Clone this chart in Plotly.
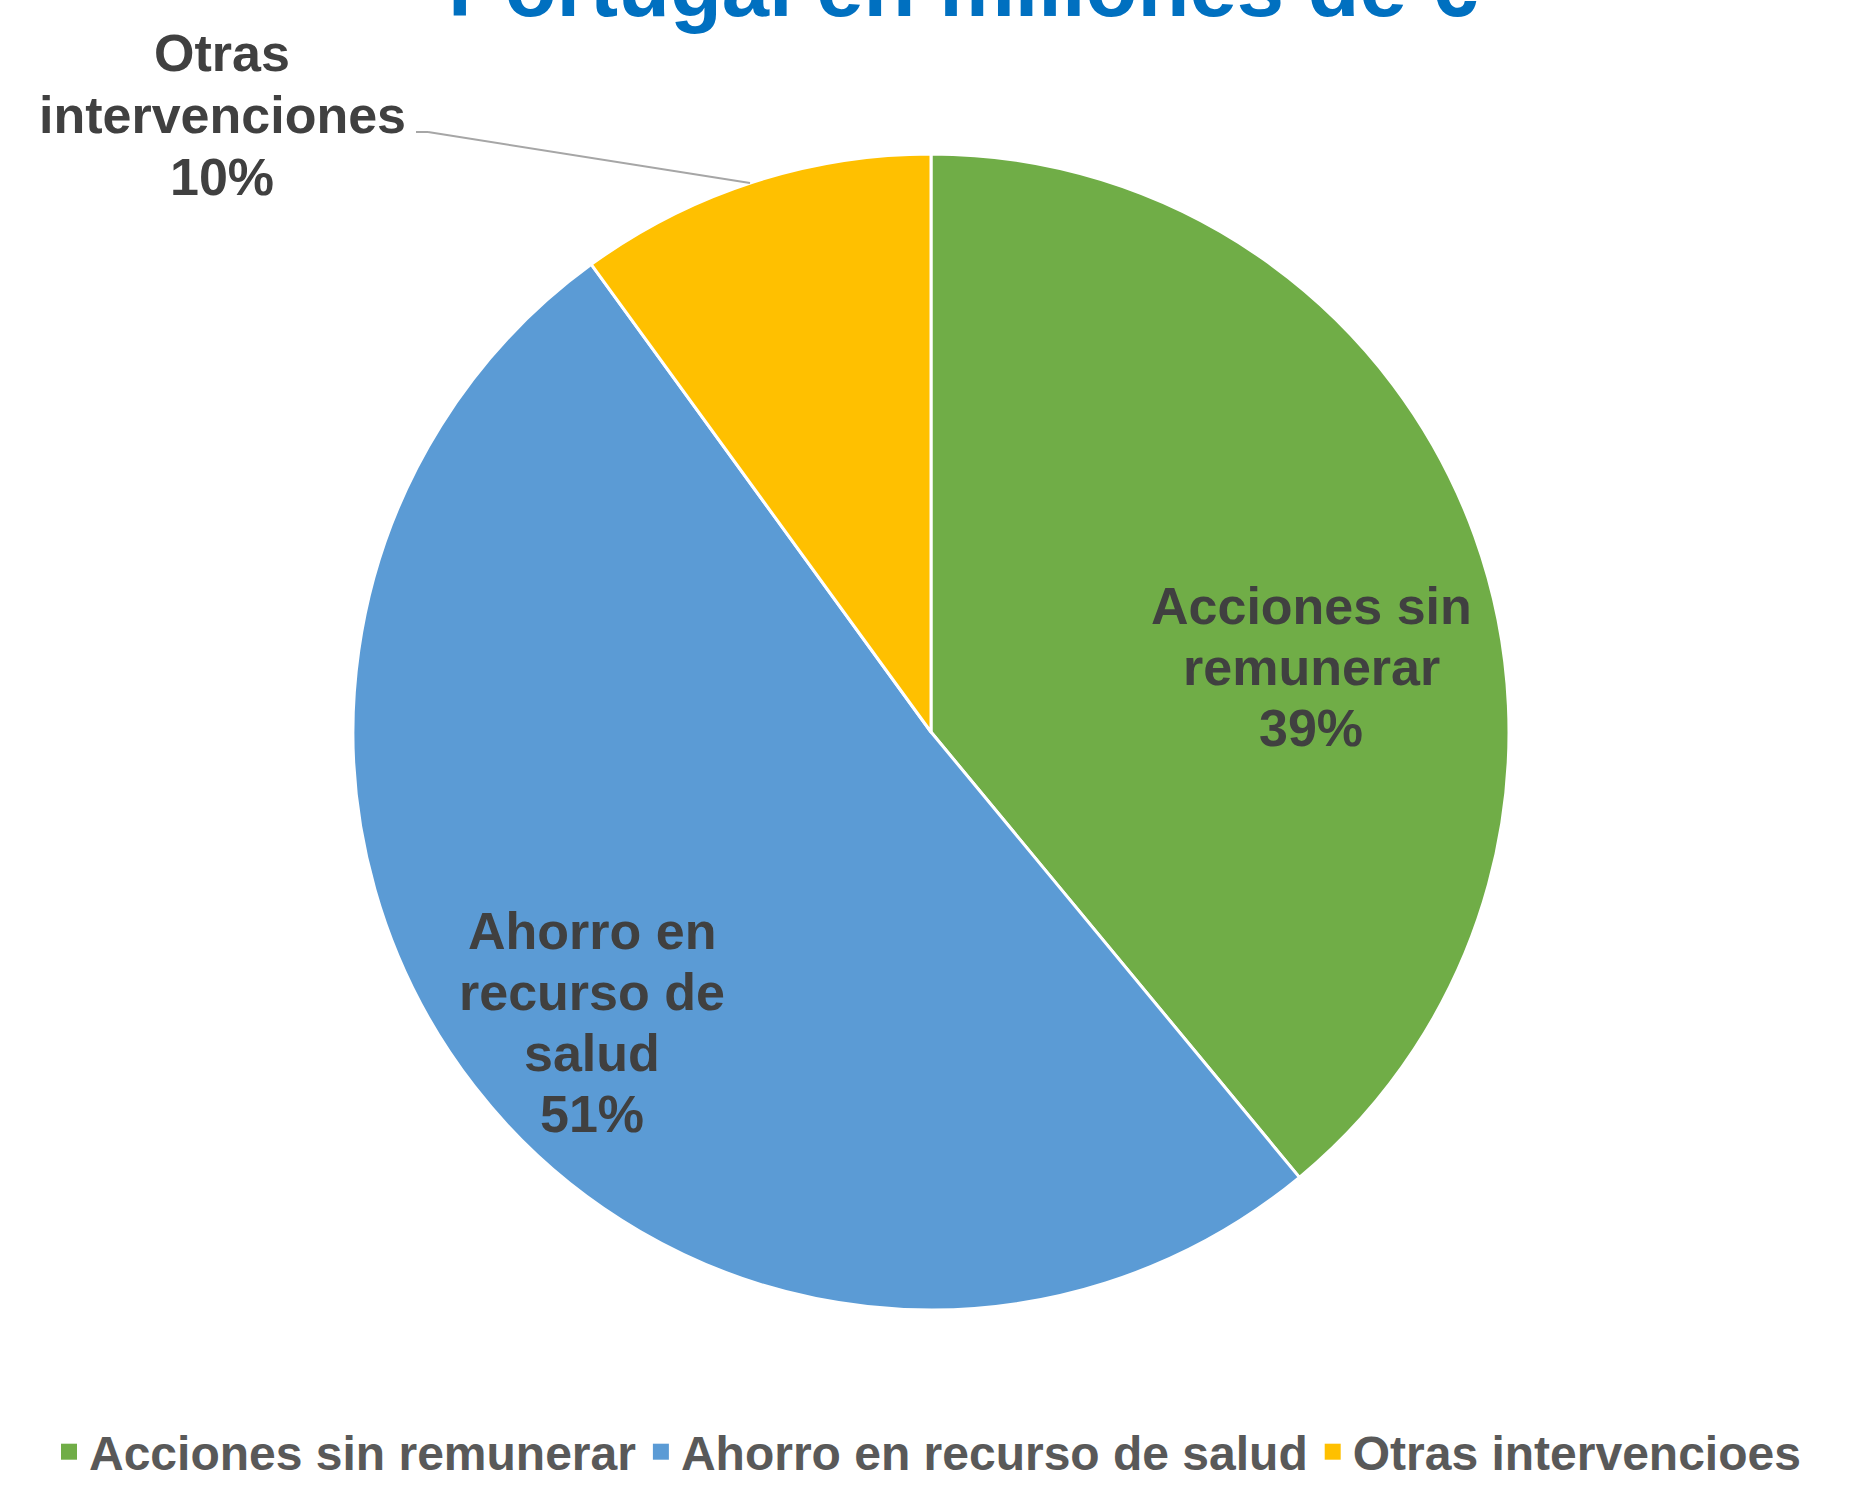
import plotly.graph_objects as go

# ---- data ----
legend_labels = ["Acciones sin remunerar", "Ahorro en recurso de salud", "Otras intervencioes"]
slice_label_lines = [["Acciones sin", "remunerar"], ["Ahorro en", "recurso de", "salud"], ["Otras", "intervenciones"]]
values = [39, 51, 10]
colors = ["#70AD47", "#5B9BD5", "#FFC000"]
title_text = "Portugal en millones de €"

W, H = 1855, 1486
FONT = "Liberation Sans, Arial, sans-serif"

def px(x):
    return x / W

def py(y):
    return 1 - y / H

# pie geometry: centre (931, 732), radius 578
cx, cy, r = 931, 732, 578

fig = go.Figure()
fig.add_trace(go.Pie(
    labels=legend_labels,
    values=values,
    sort=False,
    direction="clockwise",
    rotation=0,
    marker=dict(colors=colors, line=dict(color="white", width=3)),
    textinfo="none",
    hoverinfo="label+percent",
    domain=dict(x=[px(cx - r), px(cx + r)], y=[py(cy + r), py(cy - r)]),
    showlegend=False,
))

# legend entries (square swatches)
for lab, col in zip(legend_labels, colors):
    fig.add_trace(go.Scatter(
        x=[None], y=[None], mode="markers", name=lab,
        marker=dict(symbol="square", size=16, color=col, line=dict(width=0)),
        showlegend=True, hoverinfo="skip",
    ))

total = sum(values)
pcts = [round(v / total * 100) for v in values]

# label layout: (x centre, first line y, line spacing)
label_pos = [(1311, 606, 61), (592, 931, 61), (222, 53, 62)]
annotations = []
for lines, pct, (lx, ly, sp) in zip(slice_label_lines, pcts, label_pos):
    all_lines = lines + [f"{pct}%"]
    for i, t in enumerate(all_lines):
        annotations.append(dict(
            x=px(lx), y=py(ly + i * sp), xref="paper", yref="paper",
            xanchor="center", yanchor="middle", showarrow=False,
            text=f"<b>{t}</b>",
            font=dict(family=FONT, size=52, color="#404040"),
        ))

# title (partially cut at top, as in reference)
annotations.append(dict(
    x=px(963), y=py(36), xref="paper", yref="paper",
    xanchor="center", yanchor="bottom", showarrow=False,
    text=f"<b>{title_text}</b>",
    font=dict(family=FONT, size=85, color="#0070C0"),
))

shapes = [
    dict(type="line", xref="paper", yref="paper",
         x0=px(416), y0=py(132), x1=px(428), y1=py(132),
         line=dict(color="#A6A6A6", width=2)),
    dict(type="line", xref="paper", yref="paper",
         x0=px(428), y0=py(132), x1=px(750), y1=py(183),
         line=dict(color="#A6A6A6", width=2)),
]

fig.update_layout(
    width=W, height=H,
    margin=dict(l=0, r=0, t=0, b=0, autoexpand=False),
    paper_bgcolor="white", plot_bgcolor="white",
    font=dict(family=FONT),
    annotations=annotations,
    shapes=shapes,
    xaxis=dict(visible=False),
    yaxis=dict(visible=False),
    legend=dict(
        orientation="h", x=0.5, xanchor="center", y=py(1452), yanchor="middle",
        font=dict(family=FONT, size=48, color="#595959", weight="bold"),
        itemsizing="trace", bgcolor="rgba(0,0,0,0)", tracegroupgap=0,
    ),
)

fig.write_html("out.html", config={"displayModeBar": False},
               post_script="document.body.style.margin='0';")
